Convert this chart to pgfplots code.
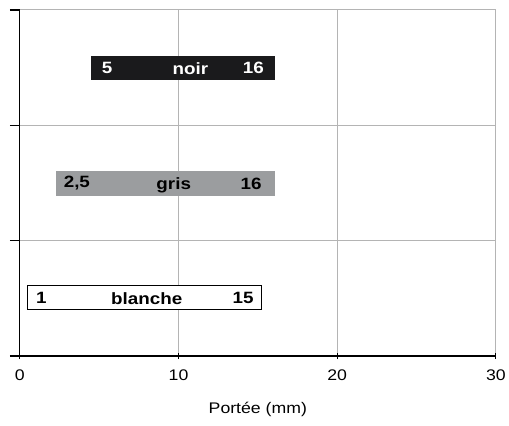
\documentclass[border=0pt]{standalone}
\usepackage{pgfplots}
\pgfplotsset{compat=1.18}
\usepackage{fontspec}
\setmainfont{Liberation Sans}[FakeStretch=1.15]
\definecolor{noir}{HTML}{1A1A1C}
\definecolor{gris}{HTML}{9B9D9F}
\definecolor{grille}{HTML}{B4B4B4}
\begin{document}
\begin{tikzpicture}
\begin{axis}[
  scale only axis,
  width=480pt, height=349pt,
  xmin=0, xmax=30, ymin=0, ymax=3,
  axis lines=left,
  axis line style={-, black, line width=1.2pt},
  xtick={0,10,20,30},
  ytick={0,1,2,3},
  yticklabels={},
  grid=major,
  grid style={grille, line width=0.9pt},
  xtick style={black, line width=1.2pt, /pgfplots/major tick length=6pt},
  ytick style={black, line width=1.2pt, /pgfplots/major tick length=10pt},
  xtick align=center,
  ytick align=outside,
  tick label style={font=\fontsize{15.5}{18}\selectfont},
  xticklabel style={yshift=-8pt},
  /pgf/number format/assume math mode=true,
  xlabel={Portée (mm)},
  xlabel style={font=\fontsize{15.5}{18}\selectfont, yshift=-15pt},
  clip=false,
]
% barres : de gauche a droite, centrees sur 2.5, 1.5, 0.5
\addplot [fill=noir, draw=noir] coordinates {(4.5,2.397) (16,2.397) (16,2.603) (4.5,2.603)} -- cycle;
\addplot [fill=gris, draw=gris] coordinates {(2.3,1.39) (16,1.39) (16,1.6) (2.3,1.6)} -- cycle;
\addplot [fill=white, draw=black, line width=0.8pt] coordinates {(0.45,0.4) (15.25,0.4) (15.25,0.61) (0.45,0.61)} -- cycle;

\begin{scope}[font=\bfseries\fontsize{16.5}{18}\selectfont]
\node[white, anchor=west] at (axis cs:4.95,2.5) {5};
\node[white] at (axis cs:10.75,2.49) {noir};
\node[white, anchor=east] at (axis cs:15.6,2.5) {16};
\node[anchor=west] at (axis cs:2.55,1.495) {2,5};
\node at (axis cs:9.7,1.48) {gris};
\node[anchor=east] at (axis cs:15.45,1.495) {16};
\node[anchor=west] at (axis cs:0.8,0.505) {1};
\node at (axis cs:8.0,0.495) {blanche};
\node[anchor=east] at (axis cs:14.95,0.505) {15};
\end{scope}
\end{axis}
\path (current axis.south west) ++(-20pt,-70pt) coordinate (bl);
\path (current axis.north east) ++(9pt,10pt) coordinate (tr);
\path (bl) rectangle (tr);
\end{tikzpicture}
\end{document}
